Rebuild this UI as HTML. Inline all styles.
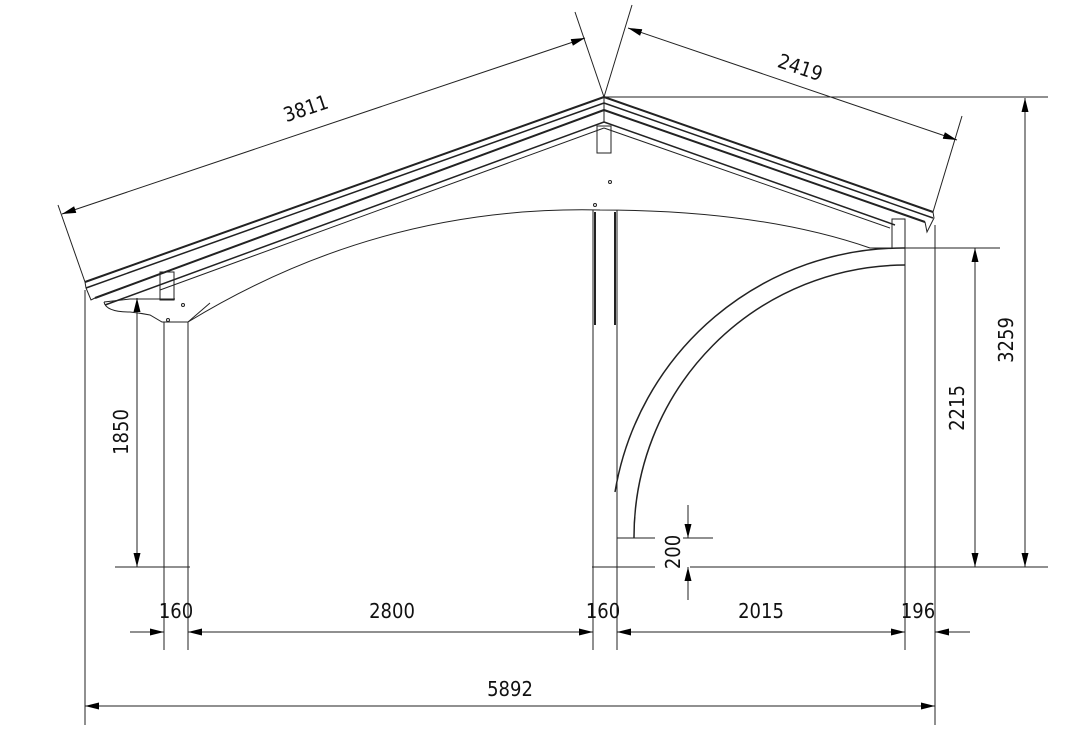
<!DOCTYPE html>
<html><head><style>html,body{margin:0;padding:0;background:#fff}svg{display:block}</style></head><body>
<svg width="1091" height="742" viewBox="0 0 1091 742" xmlns="http://www.w3.org/2000/svg" font-family="'DejaVu Sans Condensed','Liberation Sans Narrow','Liberation Sans',sans-serif">
<defs>
<marker id="a" viewBox="0 0 14 7" refX="14" refY="3.5" markerWidth="14" markerHeight="7" orient="auto-start-reverse" markerUnits="userSpaceOnUse">
<path d="M0,0 L14,3.5 L0,7 z" fill="#000"/></marker>
</defs>
<g stroke="#222" fill="none" stroke-width="1">
<path d="M604,97 L85,282" stroke-width="2"/>
<path d="M604,103 L86,288" stroke-width="1.5"/>
<path d="M604,110 L95,298" stroke-width="2"/>
<path d="M85,282 L86,288 L91,300 L95,298"/>
<path d="M604,122 L105,305" stroke-width="1.5"/>
<path d="M604,128 L160,290"/>
<path d="M604,97 L933,212" stroke-width="2"/>
<path d="M604,103 L933,218" stroke-width="1.5"/>
<path d="M604,110 L925,222" stroke-width="2"/>
<path d="M933,212 L934,218 L927,232 L925,222"/>
<path d="M604,122 L895,225" stroke-width="1.5"/>
<path d="M604,128 L890,228"/>
<path d="M604,97 V122"/>
<rect x="597" y="126" width="14" height="27"/>
<rect x="160" y="272" width="14" height="28"/>
<rect x="892" y="219" width="13" height="29"/>
<path d="M104,302 Q106,312 130,312 Q140,313 150,315 L162,322 L188,322 L210,303"/>
<path d="M104,302 L130,299 L175,299"/>
<circle cx="183" cy="305" r="1.5"/><circle cx="168" cy="320" r="1.5"/>
<circle cx="610" cy="182" r="1.5"/><circle cx="595" cy="205" r="1.5"/>
<path d="M188,322 Q380,205 600,210 Q760,210 870,248 L905,248"/>
<path d="M164,322 V567 M188,322 V567"/>
<path d="M593,210 V567 M617,210 V567" />
<path d="M595,212 V325 M615,212 V325" stroke-width="2"/>
<path d="M905,248 V650 M935,225 V725"/>
<path d="M905,248 A292,292 0 0 0 615,492" stroke-width="1.5"/>
<path d="M905,265 A272,272 0 0 0 634,538" stroke-width="1.5"/>
<path d="M617,538 H655 M683,538 H713"/>
<path d="M115,567 H190 M592,567 H655 M690,567 H1048"/>
<path d="M85,290 V725 M164,567 V650 M188,567 V650 M593,567 V650 M617,567 V650"/>
<path d="M85,282 L58,205 M604,97 L575,12"/>
<path d="M62,214 L585,38" marker-start="url(#a)" marker-end="url(#a)"/>
<path d="M604,97 L632,5 M933,212 L962,116"/>
<path d="M628,28 L957,140" marker-start="url(#a)" marker-end="url(#a)"/>
<path d="M604,97 H1048"/>
<path d="M1025,98 V567" marker-start="url(#a)" marker-end="url(#a)"/>
<path d="M890,248 H1000"/>
<path d="M975,248 V567" marker-start="url(#a)" marker-end="url(#a)"/>
<path d="M137,298 V567" marker-start="url(#a)" marker-end="url(#a)"/>
<path d="M688,505 V538" marker-end="url(#a)"/>
<path d="M688,600 V567" marker-end="url(#a)"/>
<path d="M130,632 H164" marker-end="url(#a)"/>
<path d="M188,632 H593" marker-start="url(#a)" marker-end="url(#a)"/>
<path d="M617,632 H905" marker-start="url(#a)" marker-end="url(#a)"/>
<path d="M970,632 H935" marker-end="url(#a)"/>
<path d="M85,706 H935" marker-start="url(#a)" marker-end="url(#a)"/>
</g>
<g fill="#111" font-size="20">
<text x="176" y="618" text-anchor="middle">160</text>
<text x="392" y="618" text-anchor="middle">2800</text>
<text x="603" y="618" text-anchor="middle">160</text>
<text x="761" y="618" text-anchor="middle">2015</text>
<text x="918" y="618" text-anchor="middle">196</text>
<text x="510" y="696" text-anchor="middle">5892</text>
<text transform="translate(308,115) rotate(-18.5)" text-anchor="middle">3811</text>
<text transform="translate(798,74) rotate(18.7)" text-anchor="middle">2419</text>
<text transform="translate(128,432) rotate(-90)" text-anchor="middle">1850</text>
<text transform="translate(964,408) rotate(-90)" text-anchor="middle">2215</text>
<text transform="translate(1013,340) rotate(-90)" text-anchor="middle">3259</text>
<text transform="translate(680,552) rotate(-90)" text-anchor="middle">200</text>
</g>
</svg>
</body></html>
